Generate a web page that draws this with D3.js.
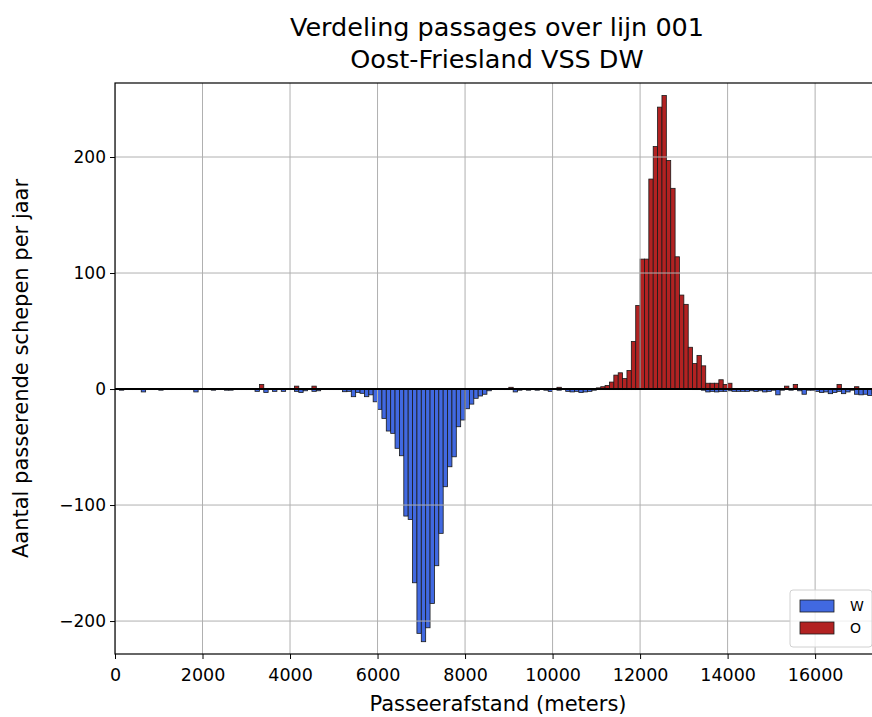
<!DOCTYPE html>
<html>
<head>
<meta charset="utf-8">
<script src="https://cdn.jsdelivr.net/npm/d3@7/dist/d3.min.js"></script>
<style>
  body { margin: 0; background: #fff; }
  text { font-family: "DejaVu Sans", sans-serif; fill: #000; }
  .axis path, .axis line { stroke: #000; }
  .grid line { stroke: #b0b0b0; stroke-width: 1; }
</style>
</head>
<body>
<div id="chart"></div>
<script>

// DATA: passages per 100 m bin (W drawn downwards, O upwards)
var binWidth = 100;

var wVals = [
  -0.5, -1, -0.5, -0.5, -0.5, -0.5, -2.5, -0.5, -0.5, -0.5,
  -1, -0.5, -0.5, -0.5, -0.5, -0.5, -0.5, -0.5, -2.5, -0.5,
  -0.5, -0.5, -1, -0.5, -0.5, -1, -1, -0.5, -0.5, -0.5,
  -0.5, -0.5, -2, -0.5, -3, -0.5, -2, -0.5, -2, -0.5,
  -0.5, -2, -3, -1.5, -0.5, -2, -1.5, -0.5, -0.5, -0.5,
  -0.5, -0.5, -2.3, -2, -6.6, -2.9, -3.7, -6.6, -5, -11,
  -17.5, -25.3, -36.2, -38.2, -51.1, -57.5, -109.5, -112.4, -167, -210.6,
  -217.8, -205.8, -184.8, -152.3, -124.4, -84.2, -67, -58.4, -32.5, -26.7,
  -17, -13, -8, -6, -4.5, -1.5, -0.5, -0.5, -0.5, -0.5,
  -0.5, -2.5, -1, -0.5, -1, -0.5, -1, -0.5, -1, -2,
  -0.5, -1, -0.5, -2, -2.5, -2, -3, -2.5, -2, -1,
  -0.5, -0.5, -0.5, -0.5, -0.5, -0.5, -0.5, -0.5, -0.5, -0.5,
  0, 0, 0, 0, 0, 0, 0, 0, 0, 0,
  0, 0, -0.5, -0.5, -1, -2.5, -2, -2.5, -2, -2,
  -1.5, -2, -2, -2, -2, -1.5, -2, -1.5, -2.5, -2,
  -1, -5, -1, -0.5, -1, -0.5, -1.5, -4.5, -1, -1,
  -2, -3, -2.5, -4, -3, -2, -4, -2.5, -1, -4.5,
  -5, -4.5, -5.5, -4, -5
];

var oVals = [
  0, 0, 0, 0, 0, 0, 0, 0, 0, 0,
  0, 0, 0, 0, 0, 0, 0, 0, 0, 0,
  0, 0, 0, 0, 0, 0, 0, 0, 0, 0,
  0, 0, 0, 4, 0, 0, 0, 0, 0, 0,
  0, 2.5, 0, 0, 0, 2.5, 0, 0, 0, 0,
  0, 0, 0, 0, 0, 0, 0, 0, 0, 0,
  0, 0, 0, 0, 0, 0, 0, 0, 0, 0,
  0, 0, 0, 0, 0, 0, 0, 0, 0, 0,
  0, 0, 0, 0, 0, 0, 0, 0, 0, 0,
  1.5, 0, 0, 0, 0, 0, 0, 0, 0, 0,
  0, 1.5, 0, 0, 0, 0, 0, 0, 0, 0,
  1, 2, 3, 6, 12, 14, 9, 16, 41, 72,
  112, 112, 181, 209, 243, 253, 197, 173, 114, 81,
  73, 36, 22, 29, 20, 5, 5, 5, 8, 4,
  5, 0.5, 0, 0, 0, 0, 0, 0, 0, 0,
  0, 0, 0, 2.5, 0, 4, 0, 0, 0, 0,
  0, 0, 0, 0, 0, 4, 0, 0, 0, 2,
  0, 0, 0, 0, 0
];

// bin start of every bar (metres)
var binStarts = d3.range(0, wVals.length * binWidth, binWidth);

var xTicks = [0, 2000, 4000, 6000, 8000, 10000, 12000, 14000, 16000];
var yTicks = [-200, -100, 0, 100, 200];

var titleLines = ["Verdeling passages over lijn 001", "Oost-Friesland VSS DW"];
var series = [
  {name: "W", color: "#4169e1", values: wVals},
  {name: "O", color: "#b22222", values: oVals}
];

//SETUP
var width = 872;
var height = 717;

const margin = {top: 83, right: -7, bottom: 63, left: 115};

let svg = d3.select("#chart").append("svg")
  .attr("width", width)
  .attr("height", height);

let x = d3.scaleLinear()
  .domain([0, 17460])
  .range([margin.left, width - margin.right]);

let y = d3.scaleLinear()
  .domain([-228.4, 263.8])
  .range([height - margin.bottom, margin.top]);

svg.append("clipPath")
  .attr("id", "plotClip")
  .append("rect")
  .attr("x", x.range()[0])
  .attr("y", y.range()[1])
  .attr("width", x.range()[1] - x.range()[0])
  .attr("height", y.range()[0] - y.range()[1]);

let plot = svg.append("g").attr("clip-path", "url(#plotClip)");

// bars
series.forEach(s => {
  plot.selectAll("rect.bar-" + s.name)
    .data(s.values.map((v, i) => ({start: binStarts[i], value: v})).filter(d => d.value !== 0))
    .enter()
    .append("rect")
    .attr("class", "bar-" + s.name)
    .attr("x", d => x(d.start))
    .attr("width", d => x(d.start + binWidth) - x(d.start))
    .attr("y", d => y(Math.max(0, d.value)))
    .attr("height", d => Math.abs(y(d.value) - y(0)))
    .style("fill", s.color)
    .style("stroke", "#1a1a1a")
    .style("stroke-width", 0.8);
});

// grid on top of the bars
plot.append("g")
  .attr("class", "grid")
  .selectAll("line.vg")
  .data(xTicks)
  .enter()
  .append("line")
  .attr("x1", d => x(d)).attr("x2", d => x(d))
  .attr("y1", y.range()[1]).attr("y2", y.range()[0]);

plot.append("g")
  .attr("class", "grid")
  .selectAll("line.hg")
  .data(yTicks)
  .enter()
  .append("line")
  .attr("x1", x.range()[0]).attr("x2", x.range()[1])
  .attr("y1", d => y(d)).attr("y2", d => y(d));

// zero line
plot.append("line")
  .attr("x1", x.range()[0]).attr("x2", x.range()[1])
  .attr("y1", y(0)).attr("y2", y(0))
  .style("stroke", "#000")
  .style("stroke-width", 2);

// axes
let xAxis = d3.axisBottom(x)
  .tickValues(xTicks)
  .tickSize(5)
  .tickPadding(10)
  .tickFormat(d3.format("d"));

let yAxis = d3.axisLeft(y)
  .tickValues(yTicks)
  .tickSize(5)
  .tickPadding(4)
  .tickFormat(d => d < 0 ? "\u2212" + Math.abs(d) : d);

svg.append("g")
  .attr("class", "axis xAxis")
  .attr("transform", `translate(0, ${y.range()[0]})`)
  .call(xAxis)
  .call(g => g.select(".domain").remove())
  .selectAll("text")
  .style("font-size", "17.5px");

svg.append("g")
  .attr("class", "axis yAxis")
  .attr("transform", `translate(${x.range()[0]}, 0)`)
  .call(yAxis)
  .call(g => g.select(".domain").remove())
  .selectAll("text")
  .style("font-size", "17px");

// frame
svg.append("rect")
  .attr("x", x.range()[0])
  .attr("y", y.range()[1])
  .attr("width", x.range()[1] - x.range()[0])
  .attr("height", y.range()[0] - y.range()[1])
  .style("fill", "none")
  .style("stroke", "#000")
  .style("stroke-width", 1.2);

// labels
svg.append("text")
  .attr("x", 498)
  .attr("y", 711)
  .style("text-anchor", "middle")
  .style("font-size", "21px")
  .text("Passeerafstand (meters)");

svg.append("text")
  .attr("transform", `translate(28, ${(y.range()[0] + y.range()[1]) / 2}) rotate(-90)`)
  .style("text-anchor", "middle")
  .style("font-size", "21px")
  .text("Aantal passerende schepen per jaar");

svg.selectAll("text.title")
  .data(titleLines)
  .enter()
  .append("text")
  .attr("class", "title")
  .attr("x", (x.range()[0] + x.range()[1]) / 2)
  .attr("y", (d, i) => 36 + i * 32)
  .style("text-anchor", "middle")
  .style("font-size", "25.5px")
  .text(d => d);

// legend, lower right
let legend = svg.append("g")
  .attr("transform", `translate(${x.range()[1] - 89}, ${y.range()[0] - 64})`);

legend.append("rect")
  .attr("width", 82)
  .attr("height", 57)
  .attr("rx", 3)
  .style("fill", "#fff")
  .style("fill-opacity", 0.8)
  .style("stroke", "#d0d0d0");

series.forEach((s, i) => {
  legend.append("rect")
    .attr("x", 10)
    .attr("y", 10 + i * 22)
    .attr("width", 34)
    .attr("height", 12)
    .style("fill", s.color)
    .style("stroke", "#1a1a1a")
    .style("stroke-width", 0.8);
  legend.append("text")
    .attr("x", 60)
    .attr("y", 21 + i * 22)
    .style("font-size", "14px")
    .text(s.name);
});

</script>
</body>
</html>
